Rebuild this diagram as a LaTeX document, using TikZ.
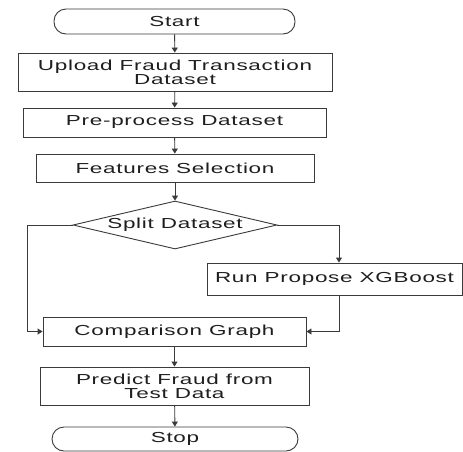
\documentclass[tikz,border=0pt]{standalone}
\usepackage{fontspec}
\setmainfont[FakeStretch=1.55,LetterSpace=5]{Liberation Sans}
\usetikzlibrary{shapes.geometric,arrows.meta}
\definecolor{linegray}{HTML}{3A3A3A}
\definecolor{textgray}{HTML}{1E1E1E}
\begin{document}
\begin{tikzpicture}[x=1pt,y=-1pt,
  font=\fontsize{14.5}{14}\selectfont,
  every node/.style={inner sep=0pt, align=center, text=textgray},
  box/.style={draw=linegray, line width=0.9pt, rectangle},
  terminal/.style={draw=linegray, line width=0.9pt, rectangle, rounded corners=12pt},
  decision/.style={draw=linegray, line width=0.9pt, diamond, aspect=4.25},
  flow/.style={draw=linegray, line width=0.9pt, -{Triangle[length=5pt,width=6pt]}},
  link/.style={draw=linegray, line width=0.9pt}]
\useasboundingbox[fill=white] (0,0) rectangle (463,451);

% process steps
\node[terminal, minimum width=241pt, minimum height=25pt] (start) at (174.5,21.5) {Start};
\node[box, minimum width=314pt, minimum height=38pt] (upload) at (175,72) {Upload Fraud Transaction\\Dataset};
\node[box, minimum width=303pt, minimum height=29pt] (pre) at (174.5,122.5) {Pre-process Dataset};
\node[box, minimum width=278pt, minimum height=28pt] (feat) at (175,168) {Features Selection};
\node[decision, minimum width=204pt, minimum height=48pt] (split) at (175,225) {Split Dataset};
\node[box, minimum width=255pt, minimum height=32pt] (run) at (334.5,279) {Run Propose XGBoost};
\node[box, minimum width=263pt, minimum height=29pt] (comp) at (174.5,331.5) {Comparison Graph};
\node[box, minimum width=269pt, minimum height=38pt] (pred) at (174.5,386) {Predict Fraud from\\Test Data};
\node[terminal, minimum width=246pt, minimum height=24pt] (stop) at (175,439) {Stop};

% routing columns
\coordinate (lx) at (27,0);
\coordinate (rx) at (339,0);

% connectors
\draw[flow] (start) -- (upload);
\draw[flow] (upload) -- (pre);
\draw[flow] (pre) -- (feat);
\draw[flow] (feat) -- (split);
\draw[link] (split.west) -- (lx |- split.west) -- (lx |- comp.west);
\draw[flow] (lx |- comp.west) -- (comp.west);
\draw[flow] (split.east) -| (rx |- run.north);
\draw[link] (rx |- run.south) -- (rx |- comp.east);
\draw[flow] (rx |- comp.east) -- (comp.east);
\draw[flow] (comp) -- (pred);
\draw[flow] (pred) -- (stop);
\end{tikzpicture}
\end{document}
